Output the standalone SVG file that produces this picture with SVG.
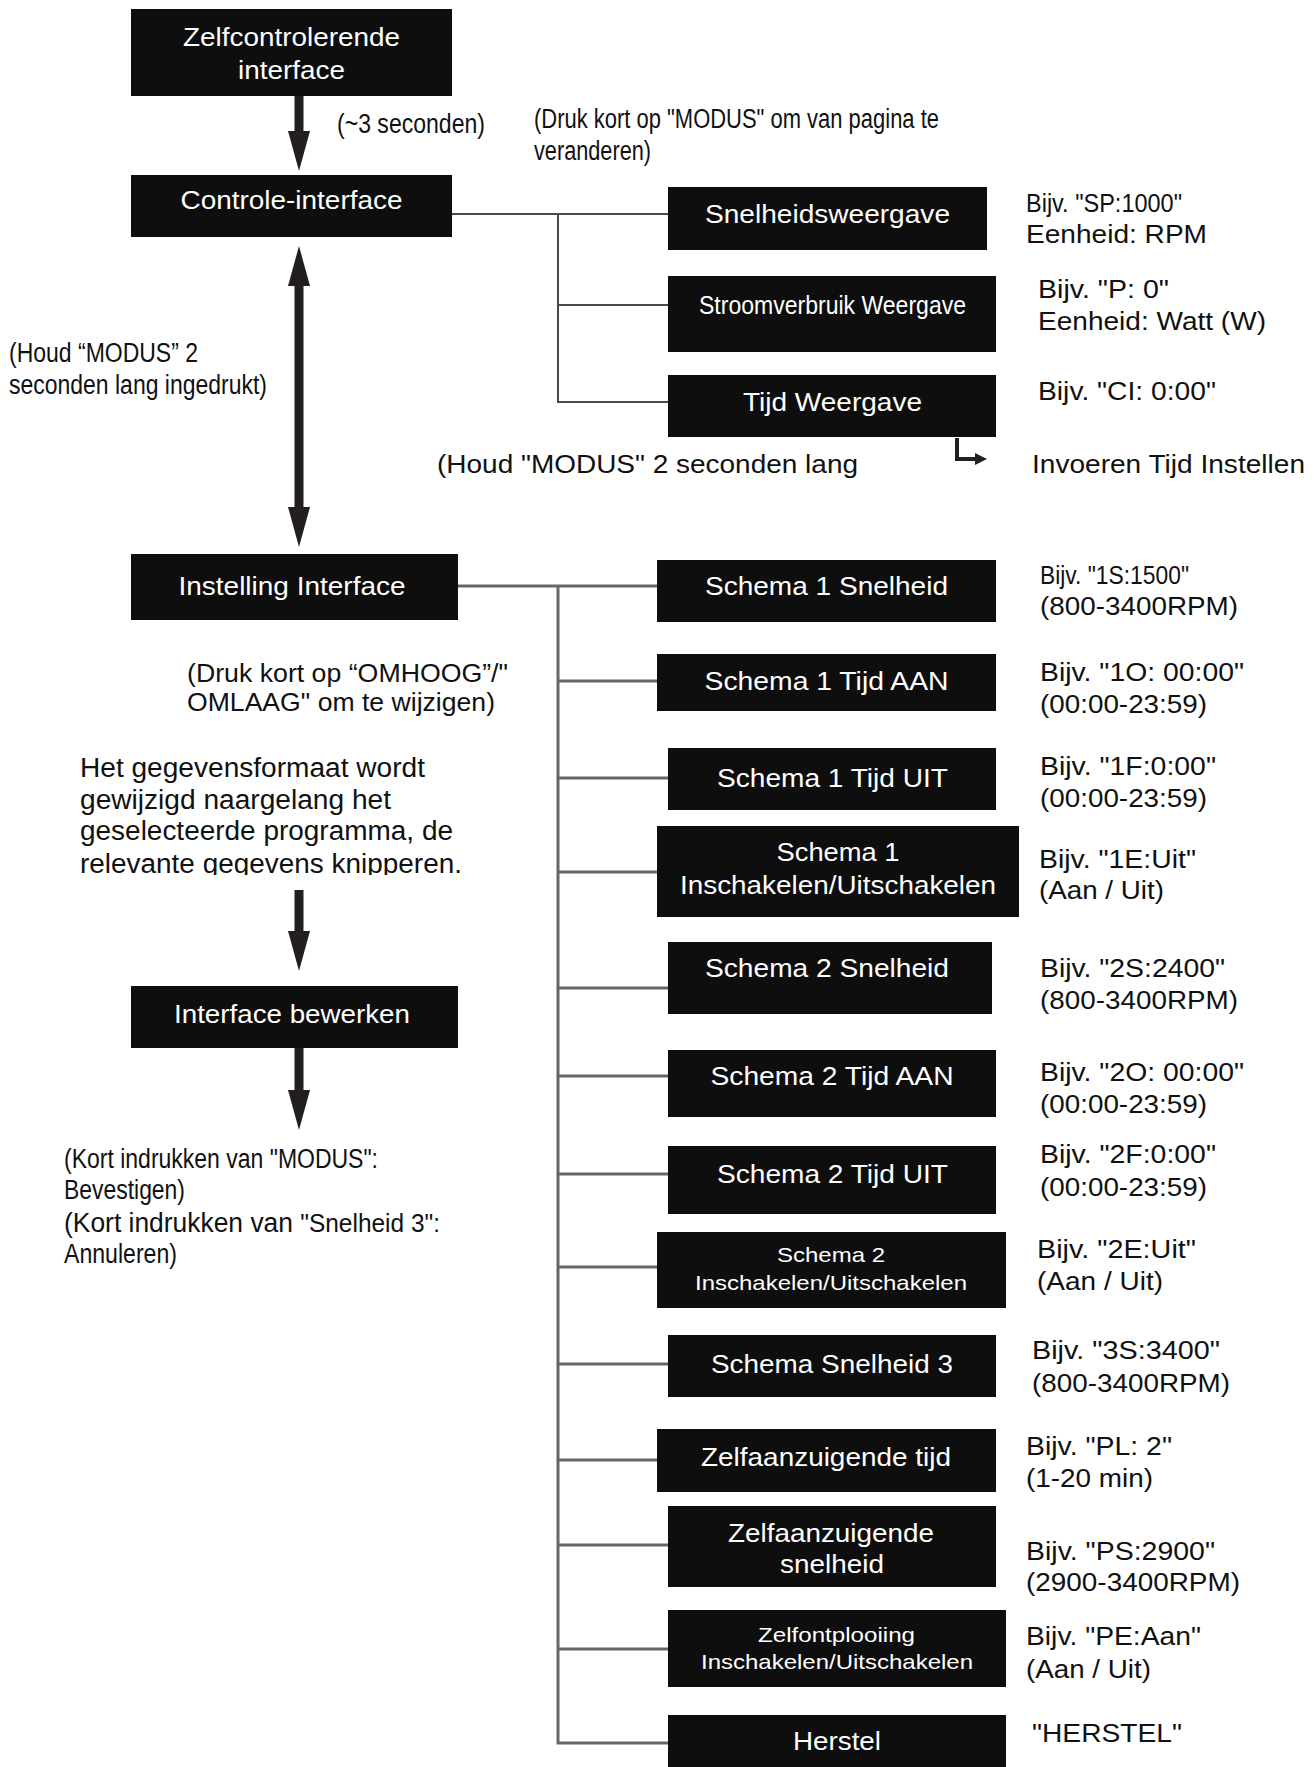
<svg xmlns="http://www.w3.org/2000/svg" width="1314" height="1767" viewBox="0 0 1314 1767">
<style>
text{font-family:"Liberation Sans",Arial,sans-serif;fill:#111;}
.box{fill:#0e0e0e;}
.bt{fill:#fff;font-size:26px;text-anchor:middle;}
.bs{fill:#fff;font-size:21px;text-anchor:middle;}
.side{font-size:26px;}
.note{font-size:27px;}
.big{stroke:#231f20;stroke-width:9;fill:none;}
.con{stroke:#4a4a4a;stroke-width:2;fill:none;}
.trunk{stroke:#666;stroke-width:3;fill:none;}
</style>
<defs>
<marker id="head" viewBox="0 0 40 22" markerWidth="40" markerHeight="22" refX="0" refY="11" orient="auto-start-reverse" markerUnits="userSpaceOnUse">
<path d="M0,0 L40,11 L0,22 z" fill="#231f20"/>
</marker>
<marker id="small" viewBox="0 0 12 12" markerWidth="12" markerHeight="12" refX="0" refY="6" orient="auto" markerUnits="userSpaceOnUse">
<path d="M0,0 L12,6 L0,12 z" fill="#231f20"/>
</marker>
<clipPath id="cut"><rect x="0" y="740" width="520" height="135"/></clipPath>
</defs>
<rect width="1314" height="1767" fill="#fff"/>

<g id="connectors">
<line class="big" x1="299" y1="96" x2="299" y2="131" marker-end="url(#head)"/>
<line class="big" x1="299" y1="286" x2="299" y2="507" marker-start="url(#head)" marker-end="url(#head)"/>
<line class="big" x1="299" y1="890" x2="299" y2="931" marker-end="url(#head)"/>
<line class="big" x1="299" y1="1048" x2="299" y2="1090" marker-end="url(#head)"/>
<path d="M452,214 H668 M558,214 V402 H668 M558,305 H668" class="con"/>
<path d="M957,438 V459 H975" stroke="#231f20" stroke-width="4" fill="none" marker-end="url(#small)"/>
<path d="M458,586 H657 M558,586 V1743 H668" class="trunk"/>
<path d="M558,681 H657 M558,778 H668 M558,872 H657 M558,988 H668 M558,1076 H668 M558,1174 H668 M558,1267 H657 M558,1364 H668 M558,1460 H657 M558,1545 H668 M558,1649 H668" class="trunk"/>
</g>

<g id="n-zelfcontrolerende">
<rect class="box" x="131" y="9" width="321" height="87"/>
<text class="bt" x="291.5" y="46" textLength="217" lengthAdjust="spacingAndGlyphs">Zelfcontrolerende</text>
<text class="bt" x="291.5" y="79" textLength="107" lengthAdjust="spacingAndGlyphs">interface</text>
</g>
<text class="note" x="337" y="133" textLength="148" lengthAdjust="spacingAndGlyphs">(~3 seconden)</text>
<text class="note" x="534" y="128" textLength="405" lengthAdjust="spacingAndGlyphs">(Druk kort op "MODUS" om van pagina te</text>
<text class="note" x="534" y="160" textLength="117" lengthAdjust="spacingAndGlyphs">veranderen)</text>

<g id="n-controle">
<rect class="box" x="131" y="175" width="321" height="62"/>
<text class="bt" x="291.5" y="209" textLength="222" lengthAdjust="spacingAndGlyphs">Controle-interface</text>
</g>

<g id="n-snelheidsweergave">
<rect class="box" x="668" y="187" width="319" height="63"/>
<text class="bt" x="827.5" y="223" textLength="245" lengthAdjust="spacingAndGlyphs">Snelheidsweergave</text>
</g>
<text class="side" x="1026" y="212" textLength="156" lengthAdjust="spacingAndGlyphs">Bijv. "SP:1000"</text>
<text class="side" x="1026" y="243" textLength="181" lengthAdjust="spacingAndGlyphs">Eenheid: RPM</text>

<g id="n-stroomverbruik">
<rect class="box" x="668" y="276" width="328" height="76"/>
<text class="bt" x="832.5" y="314" style="font-size:26px" textLength="267" lengthAdjust="spacingAndGlyphs">Stroomverbruik Weergave</text>
</g>
<text class="side" x="1038" y="298" textLength="131" lengthAdjust="spacingAndGlyphs">Bijv. "P: 0"</text>
<text class="side" x="1038" y="330" textLength="228" lengthAdjust="spacingAndGlyphs">Eenheid: Watt (W)</text>

<g id="n-tijdweergave">
<rect class="box" x="668" y="375" width="328" height="62"/>
<text class="bt" x="832.5" y="411" textLength="179" lengthAdjust="spacingAndGlyphs">Tijd Weergave</text>
</g>
<text class="side" x="1038" y="400" textLength="178" lengthAdjust="spacingAndGlyphs">Bijv. "CI: 0:00"</text>
<text class="side" x="437" y="473" textLength="421" lengthAdjust="spacingAndGlyphs">(Houd "MODUS" 2 seconden lang</text>
<text class="side" x="1032" y="473" textLength="273" lengthAdjust="spacingAndGlyphs">Invoeren Tijd Instellen</text>

<text class="note" x="9" y="362" textLength="189" lengthAdjust="spacingAndGlyphs">(Houd “MODUS” 2</text>
<text class="note" x="9" y="394" textLength="258" lengthAdjust="spacingAndGlyphs">seconden lang ingedrukt)</text>

<g id="n-instelling">
<rect class="box" x="131" y="554" width="327" height="66"/>
<text class="bt" x="292" y="595" textLength="227" lengthAdjust="spacingAndGlyphs">Instelling Interface</text>
</g>
<text x="187" y="682" style="font-size:25px" textLength="321" lengthAdjust="spacingAndGlyphs">(Druk kort op “OMHOOG”/"</text>
<text x="187" y="711" style="font-size:25px" textLength="308" lengthAdjust="spacingAndGlyphs">OMLAAG" om te wijzigen)</text>
<g clip-path="url(#cut)" style="font-size:27px">
<text x="80" y="777" textLength="345" lengthAdjust="spacingAndGlyphs">Het gegevensformaat wordt</text>
<text x="80" y="809" textLength="311" lengthAdjust="spacingAndGlyphs">gewijzigd naargelang het</text>
<text x="80" y="840" textLength="373" lengthAdjust="spacingAndGlyphs">geselecteerde programma, de</text>
<text x="80" y="873" textLength="382" lengthAdjust="spacingAndGlyphs">relevante gegevens knipperen.</text>
</g>

<g id="n-bewerken">
<rect class="box" x="131" y="986" width="327" height="62"/>
<text class="bt" x="292" y="1023" textLength="236" lengthAdjust="spacingAndGlyphs">Interface bewerken</text>
</g>
<text class="note" x="64" y="1168" textLength="314" lengthAdjust="spacingAndGlyphs">(Kort indrukken van "MODUS":</text>
<text class="note" x="64" y="1199" textLength="121" lengthAdjust="spacingAndGlyphs">Bevestigen)</text>
<text class="note" x="64" y="1232" textLength="376" lengthAdjust="spacingAndGlyphs">(Kort indrukken van <tspan style="font-size:25px">"Snelheid 3":</tspan></text>
<text class="note" x="64" y="1263" textLength="113" lengthAdjust="spacingAndGlyphs">Annuleren)</text>

<g id="n-s1snelheid">
<rect class="box" x="657" y="560" width="339" height="62"/>
<text class="bt" x="826.5" y="595" textLength="243" lengthAdjust="spacingAndGlyphs">Schema 1 Snelheid</text>
</g>
<text class="side" x="1040" y="584" textLength="149" lengthAdjust="spacingAndGlyphs">Bijv. "1S:1500"</text>
<text class="side" x="1040" y="615" textLength="198" lengthAdjust="spacingAndGlyphs">(800-3400RPM)</text>

<g id="n-s1aan">
<rect class="box" x="657" y="654" width="339" height="57"/>
<text class="bt" x="826.5" y="690" textLength="244" lengthAdjust="spacingAndGlyphs">Schema 1 Tijd AAN</text>
</g>
<text class="side" x="1040" y="681" textLength="204" lengthAdjust="spacingAndGlyphs">Bijv. "1O: 00:00"</text>
<text class="side" x="1040" y="713" textLength="167" lengthAdjust="spacingAndGlyphs">(00:00-23:59)</text>

<g id="n-s1uit">
<rect class="box" x="668" y="748" width="328" height="62"/>
<text class="bt" x="832.5" y="787" textLength="231" lengthAdjust="spacingAndGlyphs">Schema 1 Tijd UIT</text>
</g>
<text class="side" x="1040" y="775" textLength="176" lengthAdjust="spacingAndGlyphs">Bijv. "1F:0:00"</text>
<text class="side" x="1040" y="807" textLength="167" lengthAdjust="spacingAndGlyphs">(00:00-23:59)</text>

<g id="n-s1in">
<rect class="box" x="657" y="826" width="362" height="91"/>
<text class="bt" x="838" y="861" textLength="123" lengthAdjust="spacingAndGlyphs">Schema 1</text>
<text class="bt" x="838" y="894" textLength="316" lengthAdjust="spacingAndGlyphs">Inschakelen/Uitschakelen</text>
</g>
<text class="side" x="1039" y="868" textLength="157" lengthAdjust="spacingAndGlyphs">Bijv. "1E:Uit"</text>
<text class="side" x="1039" y="899" textLength="125" lengthAdjust="spacingAndGlyphs">(Aan / Uit)</text>

<g id="n-s2snelheid">
<rect class="box" x="668" y="942" width="324" height="72"/>
<text class="bt" x="827" y="977" textLength="244" lengthAdjust="spacingAndGlyphs">Schema 2 Snelheid</text>
</g>
<text class="side" x="1040" y="977" textLength="185" lengthAdjust="spacingAndGlyphs">Bijv. "2S:2400"</text>
<text class="side" x="1040" y="1009" textLength="198" lengthAdjust="spacingAndGlyphs">(800-3400RPM)</text>

<g id="n-s2aan">
<rect class="box" x="668" y="1050" width="328" height="67"/>
<text class="bt" x="832" y="1085" textLength="243" lengthAdjust="spacingAndGlyphs">Schema 2 Tijd AAN</text>
</g>
<text class="side" x="1040" y="1081" textLength="204" lengthAdjust="spacingAndGlyphs">Bijv. "2O: 00:00"</text>
<text class="side" x="1040" y="1113" textLength="167" lengthAdjust="spacingAndGlyphs">(00:00-23:59)</text>

<g id="n-s2uit">
<rect class="box" x="668" y="1146" width="328" height="68"/>
<text class="bt" x="832.5" y="1183" textLength="231" lengthAdjust="spacingAndGlyphs">Schema 2 Tijd UIT</text>
</g>
<text class="side" x="1040" y="1163" textLength="176" lengthAdjust="spacingAndGlyphs">Bijv. "2F:0:00"</text>
<text class="side" x="1040" y="1196" textLength="167" lengthAdjust="spacingAndGlyphs">(00:00-23:59)</text>

<g id="n-s2in">
<rect class="box" x="657" y="1232" width="349" height="76"/>
<text class="bs" x="831" y="1262" textLength="108" lengthAdjust="spacingAndGlyphs">Schema 2</text>
<text class="bs" x="831" y="1290" textLength="272" lengthAdjust="spacingAndGlyphs">Inschakelen/Uitschakelen</text>
</g>
<text class="side" x="1037" y="1258" textLength="159" lengthAdjust="spacingAndGlyphs">Bijv. "2E:Uit"</text>
<text class="side" x="1037" y="1290" textLength="126" lengthAdjust="spacingAndGlyphs">(Aan / Uit)</text>

<g id="n-s3snelheid">
<rect class="box" x="668" y="1335" width="328" height="62"/>
<text class="bt" x="832" y="1373" textLength="242" lengthAdjust="spacingAndGlyphs">Schema Snelheid 3</text>
</g>
<text class="side" x="1032" y="1359" textLength="188" lengthAdjust="spacingAndGlyphs">Bijv. "3S:3400"</text>
<text class="side" x="1032" y="1392" textLength="198" lengthAdjust="spacingAndGlyphs">(800-3400RPM)</text>

<g id="n-zatijd">
<rect class="box" x="657" y="1429" width="339" height="63"/>
<text class="bt" x="826" y="1466" textLength="250" lengthAdjust="spacingAndGlyphs">Zelfaanzuigende tijd</text>
</g>
<text class="side" x="1026" y="1455" textLength="146" lengthAdjust="spacingAndGlyphs">Bijv. "PL: 2"</text>
<text class="side" x="1026" y="1487" textLength="127" lengthAdjust="spacingAndGlyphs">(1-20 min)</text>

<g id="n-zasnelheid">
<rect class="box" x="668" y="1506" width="328" height="81"/>
<text class="bt" x="831" y="1542" textLength="206" lengthAdjust="spacingAndGlyphs">Zelfaanzuigende</text>
<text class="bt" x="832" y="1573" textLength="104" lengthAdjust="spacingAndGlyphs">snelheid</text>
</g>
<text class="side" x="1026" y="1560" textLength="189" lengthAdjust="spacingAndGlyphs">Bijv. "PS:2900"</text>
<text class="side" x="1026" y="1591" textLength="214" lengthAdjust="spacingAndGlyphs">(2900-3400RPM)</text>

<g id="n-zelfontplooiing">
<rect class="box" x="668" y="1610" width="338" height="77"/>
<text class="bs" x="836.5" y="1642" textLength="157" lengthAdjust="spacingAndGlyphs">Zelfontplooiing</text>
<text class="bs" x="837" y="1669" textLength="272" lengthAdjust="spacingAndGlyphs">Inschakelen/Uitschakelen</text>
</g>
<text class="side" x="1026" y="1645" textLength="175" lengthAdjust="spacingAndGlyphs">Bijv. "PE:Aan"</text>
<text class="side" x="1026" y="1678" textLength="125" lengthAdjust="spacingAndGlyphs">(Aan / Uit)</text>

<g id="n-herstel">
<rect class="box" x="668" y="1715" width="338" height="52"/>
<text class="bt" x="837" y="1750" textLength="88" lengthAdjust="spacingAndGlyphs">Herstel</text>
</g>
<text class="side" x="1032" y="1742" textLength="150" lengthAdjust="spacingAndGlyphs">"HERSTEL"</text>
</svg>
